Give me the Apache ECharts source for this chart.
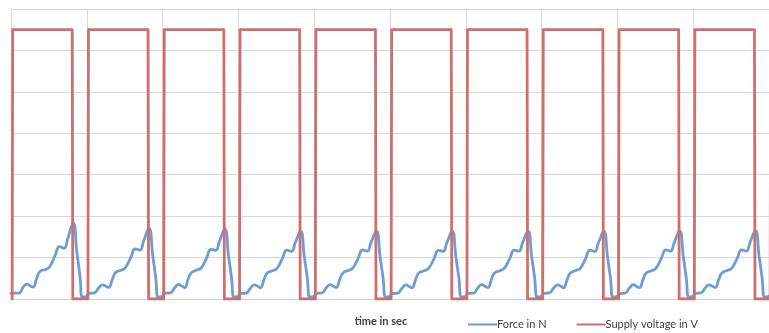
<!DOCTYPE html>
<html>
<head>
<meta charset="utf-8">
<script src="https://cdn.jsdelivr.net/npm/echarts@6/dist/echarts.min.js"></script>
<style>html,body{margin:0;padding:0;background:#fff;}#c{width:769px;height:333px;}</style>
</head>
<body>
<div id="c"></div>
<script>
// Time offsets (s) within each 1 s cycle at which force was read
const cycleOffsets = [0.00, 0.03, 0.10, 0.16, 0.21, 0.26, 0.29, 0.34, 0.38, 0.46, 0.51, 0.58, 0.64, 0.70, 0.75, 0.82, 0.87, 0.91, 0.94, 0.97];
// Force in N, one array per cycle
const force1  = [0.27,0.29,0.28,0.57,0.72,0.62,0.57,1.01,1.32,1.43,1.56,2.08,2.53,2.45,2.93,3.66,2.22,1.08,0.10,0.10];
const force2  = [0.15,0.27,0.30,0.55,0.68,0.60,0.56,0.98,1.28,1.40,1.52,2.00,2.42,2.36,2.80,3.41,2.10,1.00,0.10,0.10];
const force3  = [0.15,0.28,0.29,0.54,0.70,0.61,0.55,0.99,1.27,1.41,1.50,1.98,2.40,2.35,2.78,3.38,2.08,1.00,0.10,0.10];
const force4  = [0.15,0.27,0.28,0.53,0.68,0.60,0.54,0.96,1.25,1.38,1.48,1.95,2.36,2.30,2.72,3.27,2.02,0.98,0.10,0.10];
const force5  = [0.15,0.27,0.29,0.54,0.69,0.60,0.55,0.97,1.26,1.39,1.49,1.96,2.37,2.31,2.73,3.28,2.03,0.98,0.10,0.10];
const force6  = [0.15,0.26,0.28,0.53,0.68,0.59,0.54,0.96,1.25,1.38,1.48,1.94,2.35,2.30,2.71,3.26,2.01,0.97,0.10,0.10];
const force7  = [0.15,0.27,0.28,0.54,0.69,0.60,0.55,0.96,1.26,1.38,1.49,1.95,2.36,2.31,2.72,3.27,2.02,0.98,0.10,0.10];
const force8  = [0.15,0.27,0.29,0.53,0.68,0.60,0.54,0.97,1.25,1.39,1.48,1.95,2.36,2.30,2.72,3.26,2.02,0.97,0.10,0.10];
const force9  = [0.15,0.26,0.28,0.54,0.69,0.59,0.55,0.96,1.26,1.38,1.49,1.96,2.37,2.31,2.73,3.29,2.03,0.98,0.10,0.10];
const force10 = [0.15,0.27,0.29,0.54,0.68,0.60,0.55,0.97,1.26,1.39,1.49,1.96,2.37,2.31,2.73,3.30,2.04,0.99,0.10,0.10];
const forceCycles = [force1, force2, force3, force4, force5, force6, force7, force8, force9, force10];

// Supply voltage in V: switching instants (s) and levels
const voltTime  = [0.015,0.022,0.808,0.815, 1.015,1.022,1.808,1.815, 2.015,2.022,2.808,2.815, 3.015,3.022,3.808,3.815, 4.015,4.022,4.808,4.815,
                   5.015,5.022,5.808,5.815, 6.015,6.022,6.808,6.815, 7.015,7.022,7.808,7.815, 8.015,8.022,8.808,8.815, 9.015,9.022,9.808,9.815, 10.015,10.022,10.2];
const voltValue = [0,13,13,0, 0,13,13,0, 0,13,13,0, 0,13,13,0, 0,13,13,0,
                   0,13,13,0, 0,13,13,0, 0,13,13,0, 0,13,13,0, 0,13,13,0, 0,13,13];

const xTitle = 'time in sec';
const seriesNames = ['Force in N', 'Supply voltage in V'];

const forceData = [];
forceCycles.forEach((vals, k) => {
  vals.forEach((v, i) => forceData.push([k + cycleOffsets[i], v]));
});
forceData.push([10, 0.15]);
const voltData = voltTime.map((t, i) => [t, voltValue[i]]);

const chart = echarts.init(document.getElementById('c'), null, {renderer: 'canvas'});
chart.setOption({
  animation: false,
  backgroundColor: '#ffffff',
  grid: {left: 11, top: 9, width: 760, height: 290, containLabel: false},
  xAxis: {
    type: 'value', min: 0, max: 10, interval: 1,
    axisLabel: {show: false}, axisTick: {show: false},
    axisLine: {show: true, lineStyle: {color: '#d0d0d0', width: 1}},
    splitLine: {show: true, lineStyle: {color: '#d9d9d9', width: 1}},
    name: xTitle, nameLocation: 'middle', nameGap: 17,
    nameTextStyle: {fontFamily: 'Lato', fontWeight: 'bold', fontSize: 11, color: '#404040', padding: [0, 18, 0, 0]}
  },
  yAxis: {
    type: 'value', min: 0, max: 14, interval: 2,
    axisLabel: {show: false}, axisTick: {show: false}, axisLine: {show: false},
    splitLine: {show: true, lineStyle: {color: '#d9d9d9', width: 1}}
  },
  legend: {
    left: 463, top: 314, itemWidth: 29, itemHeight: 2, itemGap: 30,
    icon: 'rect',
    textStyle: {fontFamily: 'Lato', fontSize: 11, color: '#404040', padding: [3, 0, 0, -5]},
    data: seriesNames
  },
  series: [
    {
      name: seriesNames[0], type: 'line', data: forceData, showSymbol: false,
      smooth: 0.5,
      lineStyle: {color: '#6d9dd6', width: 2.8, cap: 'round', join: 'round'},
      itemStyle: {color: '#6d9dd6'}, z: 2
    },
    {
      name: seriesNames[1], type: 'line', data: voltData, showSymbol: false,
      lineStyle: {color: '#d06e6c', width: 2.8, cap: 'round', join: 'round'},
      itemStyle: {color: '#d06e6c'}, z: 3
    }
  ]
});
</script>
</body>
</html>
